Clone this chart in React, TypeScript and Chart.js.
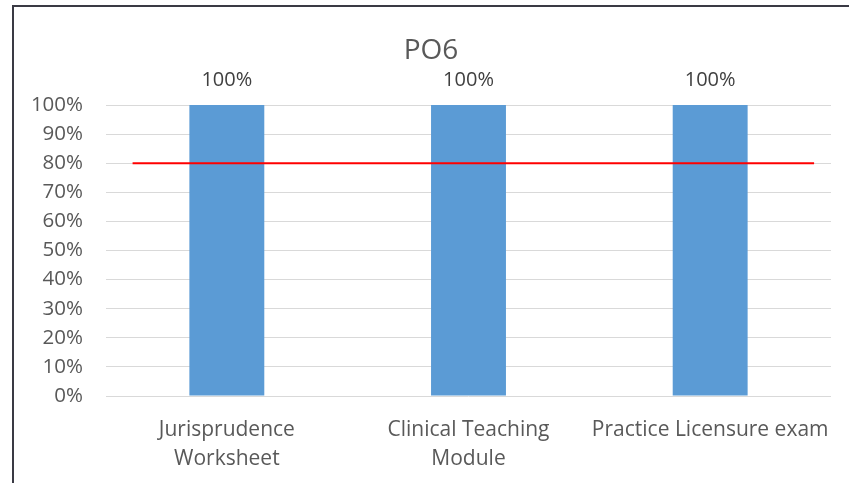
import React, { useEffect, useRef } from "react";
import { Chart, registerables } from "chart.js";
Chart.register(...registerables);

const categories: (string | string[])[] = [
  ["Jurisprudence", "Worksheet"],
  ["Clinical Teaching", "Module"],
  "Practice Licensure exam",
];
const values: number[] = [100, 100, 100];
const targetValue = 80;
const targetXStart = -0.39;
const targetXEnd = 2.43;
const yTicks: number[] = [0, 10, 20, 30, 40, 50, 60, 70, 80, 90, 100];
const title = "PO6";

const FONT = "'Open Sans', sans-serif";

const dataLabelPlugin = {
  id: "dataLabels",
  afterDatasetsDraw(chart: any) {
    const meta = chart.getDatasetMeta(0);
    const ctx = chart.ctx;
    ctx.save();
    ctx.fillStyle = "#404040";
    ctx.font = `20px ${FONT}`;
    ctx.textAlign = "center";
    ctx.textBaseline = "middle";
    meta.data.forEach((bar: any, i: number) => {
      ctx.fillText(values[i] + "%", bar.x, bar.y - 25);
    });
    ctx.restore();
  },
};

const titlePlugin = {
  id: "centerTitle",
  afterDraw(chart: any) {
    const ctx = chart.ctx;
    ctx.save();
    ctx.fillStyle = "#595959";
    ctx.font = `28px ${FONT}`;
    ctx.textAlign = "center";
    ctx.textBaseline = "middle";
    ctx.fillText(title, chart.width / 2, 45);
    ctx.restore();
  },
};

export default function App() {
  const ref = useRef<HTMLCanvasElement>(null);
  useEffect(() => {
    document.body.style.margin = "0";
    const chart = new Chart(ref.current!, {
      type: "bar",
      data: {
        labels: categories,
        datasets: [
          {
            type: "bar",
            data: values,
            backgroundColor: "#5b9bd5",
            categoryPercentage: 1,
            barPercentage: 0.31,
            grouped: false,
            order: 2,
          },
          {
            type: "line",
            data: [
              { x: targetXStart, y: targetValue },
              { x: targetXEnd, y: targetValue },
            ] as any,
            xAxisID: "x2",
            borderColor: "#ff0000",
            borderWidth: 2,
            pointRadius: 0,
            order: 1,
          } as any,
        ],
      },
      options: {
        animation: false,
        responsive: false,
        layout: { padding: { left: 0, right: 18, top: 99, bottom: 0 } },
        plugins: {
          legend: { display: false },
          tooltip: { enabled: false },
          title: { display: false },
        },
        scales: {
          x: {
            grid: { display: false },
            border: { display: false },
            ticks: {
              color: "#595959",
              font: { family: FONT, size: 21, lineHeight: 1.38 },
              padding: 12,
              maxRotation: 0,
              autoSkip: false,
            },
            afterFit: (s: any) => {
              s.height = 87;
            },
          },
          x2: {
            type: "linear",
            display: false,
            offset: false,
            min: -0.5,
            max: 2.5,
          },
          y: {
            min: 0,
            max: 100,
            afterBuildTicks: (s: any) => {
              s.ticks = yTicks.map((v) => ({ value: v }));
            },
            grid: { color: "#d9d9d9", lineWidth: 1, drawTicks: false },
            border: { display: false },
            ticks: {
              color: "#595959",
              font: { family: FONT, size: 20.5 },
              padding: 23,
              callback: (v: any) => v + "%",
            },
            afterFit: (s: any) => {
              s.width = 93;
            },
          },
        },
      },
      plugins: [dataLabelPlugin, titlePlugin],
    } as any);
    return () => chart.destroy();
  }, []);
  return (
    <div style={{ position: "relative", width: 849, height: 483, background: "#fff", overflow: "hidden" }}>
      <div
        style={{
          position: "absolute",
          left: 12,
          top: 5,
          width: 860,
          height: 500,
          borderLeft: "2px solid #3a3a44",
          borderTop: "2px solid #3a3a44",
          boxSizing: "border-box",
        }}
      />
      <canvas ref={ref} width={836} height={477} style={{ position: "absolute", left: 13, top: 6 }} />
    </div>
  );
}
